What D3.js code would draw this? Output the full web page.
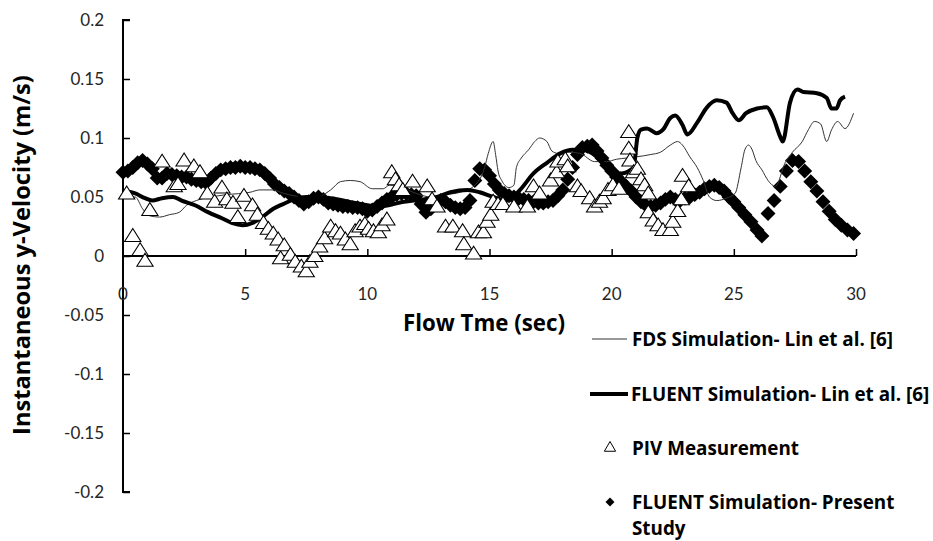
<!DOCTYPE html>
<html><head><meta charset="utf-8">
<script src="https://cdn.jsdelivr.net/npm/d3@7"></script>
<style>
body{margin:0;background:#fff;}
svg{display:block;font-family:Lato,"Open Sans",sans-serif;}
</style></head>
<body><svg id="chart" width="933" height="541"></svg>
<script>
// ---- data ----
const xTicks = [0, 5, 10, 15, 20, 25, 30];
const yTicks = [-0.2, -0.15, -0.1, -0.05, 0, 0.05, 0.1, 0.15, 0.2];
const yTickLabels = ["-0.2", "-0.15", "-0.1", "-0.05", "0", "0.05", "0.1", "0.15", "0.2"];
const seriesNames = ["FDS Simulation- Lin et al. [6]", "FLUENT Simulation- Lin et al. [6]", "PIV Measurement", "FLUENT Simulation- Present Study"];

const fdsT = [0,0.3,0.5,0.8,1.1,1.5,1.9,2.3,2.6,3.0,3.6,4.25,5.2,5.6,6.1,6.6,7.0,7.4,7.9,8.5,8.9,9.3,9.7,10.2,10.65,10.9,11.4,12.0,12.6,13.2,13.8,14.4,14.8,14.95,15.15,15.25,15.35,15.5,15.8,16.0,16.1,16.3,16.6,16.85,17.05,17.35,17.55,17.8,18.2,18.7,19.3,19.8,20.2,20.6,21.0,21.6,22.0,22.4,22.7,22.9,23.2,23.5,23.75,24.0,24.3,24.7,25.05,25.3,25.45,25.6,25.75,25.9,26.15,26.4,26.7,27.1,27.4,27.8,28.05,28.3,28.55,28.8,29.0,29.25,29.55,29.9];
const fdsV = [0.053,0.05,0.05,0.04,0.034,0.033,0.035,0.037,0.043,0.047,0.05,0.052,0.054,0.056,0.056,0.053,0.051,0.05,0.05,0.056,0.063,0.064,0.063,0.057,0.057,0.06,0.058,0.053,0.05,0.052,0.054,0.06,0.075,0.087,0.097,0.086,0.072,0.064,0.058,0.06,0.075,0.083,0.09,0.097,0.1,0.097,0.089,0.087,0.088,0.087,0.08,0.08,0.082,0.083,0.084,0.086,0.088,0.094,0.097,0.094,0.084,0.075,0.064,0.05,0.047,0.049,0.053,0.075,0.09,0.094,0.09,0.081,0.073,0.064,0.059,0.079,0.088,0.097,0.107,0.114,0.112,0.097,0.107,0.114,0.108,0.121];

const linT = [0,0.5,0.9,1.2,1.6,2.05,2.4,2.95,3.5,4.05,4.45,4.9,5.3,5.7,6.15,6.55,7.0,7.5,8.5,9.5,10.5,11.5,12.3,12.85,13.4,14.1,14.6,15.15,15.7,16.25,16.8,17.35,17.9,18.4,18.8,19.2,19.8,20.4,20.9,21.05,21.2,21.45,21.85,22.1,22.4,22.6,22.9,23.1,23.5,23.9,24.3,24.7,24.95,25.2,25.5,25.95,26.35,26.6,26.9,27.0,27.3,27.6,27.85,28.4,28.8,29.0,29.2,29.35,29.55];
const linV = [0.055,0.053,0.049,0.047,0.049,0.05,0.047,0.043,0.037,0.032,0.028,0.026,0.028,0.033,0.04,0.044,0.048,0.05,0.049,0.045,0.042,0.046,0.048,0.05,0.054,0.056,0.054,0.05,0.047,0.056,0.07,0.079,0.087,0.09,0.09,0.087,0.076,0.07,0.075,0.1,0.107,0.108,0.104,0.107,0.117,0.119,0.111,0.103,0.113,0.126,0.132,0.13,0.121,0.115,0.121,0.125,0.126,0.118,0.101,0.097,0.13,0.141,0.139,0.138,0.134,0.125,0.125,0.132,0.135];

const pivT = [0.15,0.4,0.7,0.9,1.1,1.6,2.1,2.25,2.5,2.9,3.15,3.45,3.75,4.05,4.25,4.5,4.7,4.95,5.3,5.5,5.75,5.95,6.15,6.35,6.45,6.6,6.85,7.05,7.3,7.5,7.65,7.85,8.05,8.25,8.5,8.7,8.9,9.1,9.3,9.5,9.7,9.9,10.05,10.25,10.45,10.6,10.8,11.0,11.15,11.3,11.45,11.85,12.45,12.65,12.85,13.2,13.5,13.9,13.95,14.35,14.55,14.75,14.9,15.05,15.15,15.35,15.55,16.0,16.55,16.8,17.05,17.5,17.75,17.8,18.1,18.2,18.6,18.75,19.1,19.3,19.5,19.65,19.85,20.05,20.3,20.7,20.7,20.75,20.9,21.05,21.2,21.35,21.5,21.5,21.7,21.9,22.1,22.4,22.5,22.7,22.85,22.9,23.15];
const pivV = [0.052,0.016,0.004,-0.005,0.038,0.079,0.058,0.06,0.08,0.075,0.07,0.052,0.045,0.057,0.047,0.044,0.032,0.05,0.042,0.034,0.027,0.022,0.018,0.013,-0.003,0.008,0.0,-0.006,-0.01,-0.014,-0.006,-0.001,0.007,0.014,0.024,0.02,0.018,0.013,0.009,0.02,0.024,0.026,0.022,0.02,0.019,0.025,0.03,0.07,0.064,0.059,0.055,0.062,0.058,0.047,0.041,0.024,0.024,0.02,0.009,0.001,0.019,0.019,0.028,0.034,0.045,0.043,0.043,0.041,0.041,0.058,0.052,0.063,0.07,0.079,0.081,0.075,0.058,0.054,0.048,0.041,0.045,0.048,0.055,0.059,0.056,0.104,0.09,0.08,0.07,0.073,0.064,0.059,0.052,0.036,0.029,0.025,0.021,0.021,0.028,0.037,0.047,0.067,0.058];

const presT = [0,0.2,0.4,0.6,0.8,1.0,1.2,1.4,1.6,1.8,2.0,2.2,2.4,2.6,2.8,3.0,3.2,3.4,3.6,3.8,4.0,4.2,4.4,4.6,4.8,5.0,5.2,5.4,5.6,5.8,6.0,6.2,6.4,6.6,6.8,7.0,7.2,7.4,7.6,7.8,8.0,8.2,8.4,8.6,8.8,9.0,9.2,9.4,9.6,9.8,10.0,10.2,10.4,10.6,10.8,11.0,11.2,11.4,11.6,11.8,12.0,12.2,12.4,12.6,12.8,13.0,13.2,13.4,13.6,13.8,14.0,14.2,14.4,14.6,14.8,15.0,15.2,15.4,15.6,15.8,16.0,16.2,16.4,16.6,16.8,17.0,17.2,17.4,17.6,17.8,18.0,18.2,18.4,18.6,18.8,19.0,19.2,19.4,19.6,19.8,20.0,20.2,20.4,20.6,20.8,21.0,21.2,21.4,21.6,21.8,22.0,22.2,22.4,22.6,22.8,23.0,23.2,23.4,23.6,23.8,24.0,24.2,24.4,24.6,24.8,25.0,25.2,25.45,25.7,25.95,26.15,26.4,26.65,26.9,27.15,27.4,27.65,27.9,28.15,28.4,28.65,28.9,29.15,29.4,29.65,29.9];
const presV = [0.071,0.072,0.075,0.079,0.081,0.078,0.074,0.066,0.066,0.07,0.069,0.068,0.067,0.067,0.065,0.064,0.063,0.062,0.066,0.07,0.073,0.074,0.075,0.075,0.076,0.075,0.075,0.074,0.073,0.07,0.066,0.061,0.058,0.055,0.053,0.05,0.047,0.044,0.046,0.049,0.05,0.048,0.045,0.044,0.043,0.042,0.042,0.041,0.041,0.04,0.038,0.039,0.042,0.045,0.048,0.05,0.052,0.053,0.053,0.052,0.051,0.044,0.037,0.04,0.044,0.047,0.046,0.043,0.041,0.04,0.041,0.047,0.064,0.074,0.073,0.068,0.061,0.056,0.053,0.051,0.05,0.049,0.048,0.047,0.046,0.045,0.045,0.046,0.047,0.051,0.056,0.065,0.075,0.086,0.092,0.093,0.094,0.089,0.083,0.077,0.072,0.067,0.063,0.059,0.055,0.05,0.046,0.043,0.042,0.043,0.045,0.048,0.05,0.048,0.047,0.049,0.05,0.052,0.054,0.057,0.059,0.06,0.058,0.055,0.05,0.046,0.041,0.035,0.029,0.022,0.017,0.036,0.047,0.059,0.072,0.081,0.08,0.072,0.063,0.055,0.046,0.038,0.031,0.026,0.022,0.019];

// ---- layout ----
const svg = d3.select("#chart");
const x = d3.scaleLinear().domain([0, 30]).range([123, 856]);
const y = d3.scaleLinear().domain([-0.2, 0.2]).range([492, 20]);
const textCol = "#262626";
const boldFont = "'Open Sans', Lato, sans-serif";

function fitWidth(sel, target) {
  const w = sel.node().getComputedTextLength();
  const fs = parseFloat(sel.attr("font-size"));
  if (w > 0) sel.attr("font-size", (fs * target / w).toFixed(2));
}

// y axis (ticks inward / to the right)
const yAxis = d3.axisRight(y).tickValues(yTicks).tickSize(7).tickFormat("");
const gy = svg.append("g").attr("transform", `translate(${x(0)},0)`).call(yAxis);
gy.select(".domain").attr("d", `M7,${y(0.2)}H0V${y(-0.2)}H7`).attr("stroke","#000").attr("stroke-width",2);
gy.selectAll(".tick line").attr("stroke","#000").attr("stroke-width",1.5);
svg.append("g").selectAll("text").data(yTicks).join("text")
  .attr("x", 104).attr("y", d => y(d)).attr("dy", "0.35em")
  .attr("text-anchor", "end").attr("font-size", 17).attr("fill", textCol)
  .text((d, i) => yTickLabels[i]);

// x axis at y=0, ticks upward
const xAxis = d3.axisTop(x).tickValues(xTicks.slice(1)).tickSize(7).tickFormat("");
const gx = svg.append("g").attr("transform", `translate(0,${y(0)})`).call(xAxis);
gx.select(".domain").attr("d", `M${x(0)},0H${x(30)}`).attr("stroke","#000").attr("stroke-width",2);
gx.selectAll(".tick line").attr("stroke","#000").attr("stroke-width",1.5);
svg.append("g").selectAll("text").data(xTicks).join("text")
  .attr("x", d => x(d)).attr("y", y(0) + 44).attr("text-anchor", "middle")
  .attr("font-size", 17).attr("fill", textCol).text(d => d);

// axis titles
const xt = svg.append("text").attr("x", 484).attr("y", 331).attr("text-anchor", "middle")
  .attr("font-family", boldFont).attr("font-size", 18).attr("font-weight", "bold").attr("fill", "#000").text("Flow Tme (sec)");
fitWidth(xt, 162);
const yt = svg.append("text").attr("transform", "translate(30,255) rotate(-90)").attr("text-anchor", "middle")
  .attr("font-family", boldFont).attr("font-size", 18).attr("font-weight", "bold").attr("fill", "#000").text("Instantaneous y-Velocity (m/s)");
fitWidth(yt, 360);

// marks
const diamond = d3.symbol().type(d3.symbolSquare).size(112);
const triangle = d3.symbol().type(d3.symbolTriangle).size(95);

svg.append("g").selectAll("path").data(presT).join("path")
  .attr("d", diamond).attr("transform", (d, i) => `translate(${x(d)},${y(presV[i])}) rotate(45)`)
  .attr("fill", "#000");

const line = d3.line().curve(d3.curveMonotoneX);
svg.append("path").attr("d", line(fdsT.map((t, i) => [x(t), y(fdsV[i])])))
  .attr("fill", "none").attr("stroke", "#333").attr("stroke-width", 1);
svg.append("path").attr("d", line(linT.map((t, i) => [x(t), y(linV[i])])))
  .attr("fill", "none").attr("stroke", "#000").attr("stroke-width", 4).attr("stroke-linejoin","round");

svg.append("g").selectAll("path").data(pivT).join("path")
  .attr("d", triangle).attr("transform", (d, i) => `translate(${x(d)},${y(pivV[i])}) scale(1.1,1)`)
  .attr("fill", "#fff").attr("stroke", "#000").attr("stroke-width", 1);

// legend
const lg = svg.append("g");
const legY = [339, 394, 448, 502];
lg.append("line").attr("x1", 592).attr("x2", 627).attr("y1", legY[0]).attr("y2", legY[0]).attr("stroke", "#333").attr("stroke-width", 1);
lg.append("line").attr("x1", 590).attr("x2", 628).attr("y1", legY[1]).attr("y2", legY[1]).attr("stroke", "#000").attr("stroke-width", 4);
lg.append("path").attr("d", d3.symbol().type(d3.symbolTriangle).size(55)).attr("transform", `translate(610,${legY[2]})`)
  .attr("fill", "#fff").attr("stroke", "#000").attr("stroke-width", 1);
lg.append("path").attr("d", d3.symbol().type(d3.symbolSquare).size(40)).attr("transform", `translate(610,${legY[3]}) rotate(45)`)
  .attr("fill", "#000");
const legX = [632, 631, 632, 632];
const legTexts = [];
seriesNames.forEach((n, i) => {
  const t = lg.append("text").attr("x", legX[i]).attr("y", legY[i]).attr("dy", "0.35em")
    .attr("font-family", boldFont).attr("font-size", 16).attr("font-weight", "bold").attr("fill", "#000");
  if (i === 3) {
    t.append("tspan").attr("x", legX[i]).text("FLUENT Simulation- Present");
    t.append("tspan").attr("x", legX[i]).attr("y", 528).attr("dy", "0.35em").text("Study");
  } else t.text(n);
  legTexts.push(t);
});
const w0 = legTexts[0].node().getComputedTextLength();
const legFs = 16 * 261 / w0;
legTexts.forEach(t => t.attr("font-size", legFs.toFixed(2)));
</script></body></html>
